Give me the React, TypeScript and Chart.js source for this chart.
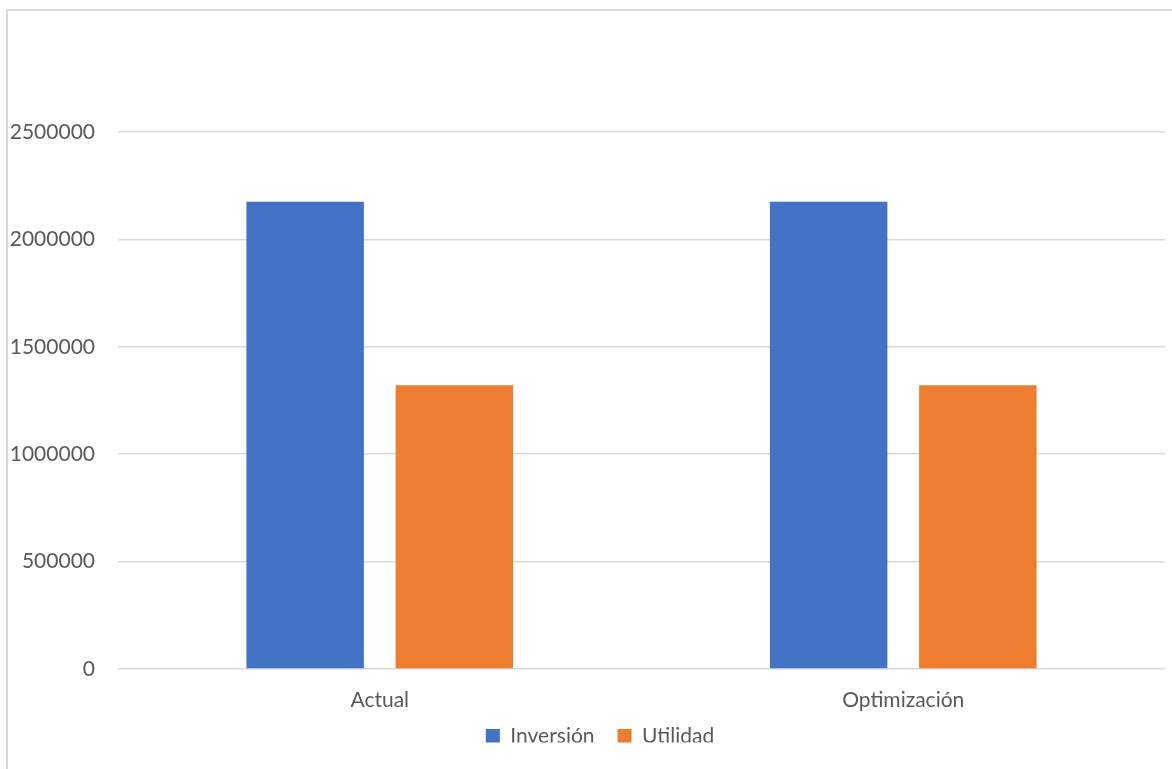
import { useEffect, useRef } from "react";
import { Chart, registerables } from "chart.js";

Chart.register(...registerables);

const categories = ["Actual", "Optimización"];
const seriesNames = ["Inversión", "Utilidad"];
const inversion = [2175000, 2175000];
const utilidad = [1321000, 1321000];
const yTicks = [0, 500000, 1000000, 1500000, 2000000, 2500000];

const BLUE = "#4472C4";
const ORANGE = "#ED7D31";
const GRID = "#D9D9D9";
const TEXT = "#595959";
const FONT = "Lato, 'Open Sans', sans-serif";

// Thin light frame around the chart (left and top edges)
const framePlugin = {
  id: "frame",
  beforeDraw(chart: any) {
    const { ctx, width, height } = chart;
    ctx.save();
    ctx.strokeStyle = GRID;
    ctx.lineWidth = 2;
    ctx.beginPath();
    ctx.moveTo(7, height);
    ctx.lineTo(7, 10);
    ctx.lineTo(width, 10);
    ctx.stroke();
    ctx.restore();
  },
};

// Nudge the legend: a bit closer to the axis labels and centred under the plot
const legendNudge = {
  id: "legendNudge",
  afterLayout(chart: any) {
    const lg = chart.legend;
    if (!lg) return;
    lg.top -= 14;
    lg.bottom -= 14;
    lg.left += 35;
  },
};

export default function App() {
  const canvasRef = useRef<HTMLCanvasElement | null>(null);

  useEffect(() => {
    const canvas = canvasRef.current;
    if (!canvas) return;
    const chart = new Chart(canvas, {
      type: "bar",
      data: {
        labels: categories,
        datasets: [
          {
            label: seriesNames[0],
            data: inversion,
            backgroundColor: BLUE,
            borderWidth: 0,
          },
          {
            label: seriesNames[1],
            data: utilidad,
            backgroundColor: ORANGE,
            borderWidth: 0,
          },
        ],
      },
      options: {
        responsive: false,
        animation: false,
        datasets: {
          bar: {
            categoryPercentage: 0.57,
            barPercentage: 0.7875,
          },
        },
        layout: {
          padding: { top: 132, left: 0, right: 7, bottom: 12.5 },
        },
        plugins: {
          title: { display: false },
          tooltip: { enabled: false },
          legend: {
            display: true,
            position: "bottom",
            maxHeight: 40,
            labels: {
              boxWidth: 14,
              boxHeight: 14,
              padding: 23,
              color: TEXT,
              font: { family: FONT, size: 21 },
            },
          },
        },
        scales: {
          x: {
            grid: { display: false, drawTicks: false, tickLength: 0 },
            border: { display: false },
            ticks: {
              color: TEXT,
              padding: 19,
              font: { family: FONT, size: 21 },
            },
            afterFit(scale: any) {
              scale.height = 47.5;
            },
          },
          y: {
            min: 0,
            max: 2500000,
            grid: {
              color: GRID,
              lineWidth: 1.5,
              drawTicks: false,
              tickLength: 0,
            },
            border: { display: false },
            ticks: {
              color: TEXT,
              padding: 23,
              font: { family: FONT, size: 21 },
              callback: (v: any) => String(v),
            },
            afterBuildTicks(scale: any) {
              scale.ticks = yTicks.map((value) => ({ value }));
            },
            afterFit(scale: any) {
              scale.width = 118;
            },
          },
        },
      },
      plugins: [framePlugin, legendNudge],
    });
    return () => chart.destroy();
  }, []);

  return (
    <div
      style={{
        position: "fixed",
        left: 0,
        top: 0,
        width: 1172,
        height: 769,
        overflow: "hidden",
        background: "#ffffff",
      }}
    >
      <canvas ref={canvasRef} width={1172} height={769} />
    </div>
  );
}
